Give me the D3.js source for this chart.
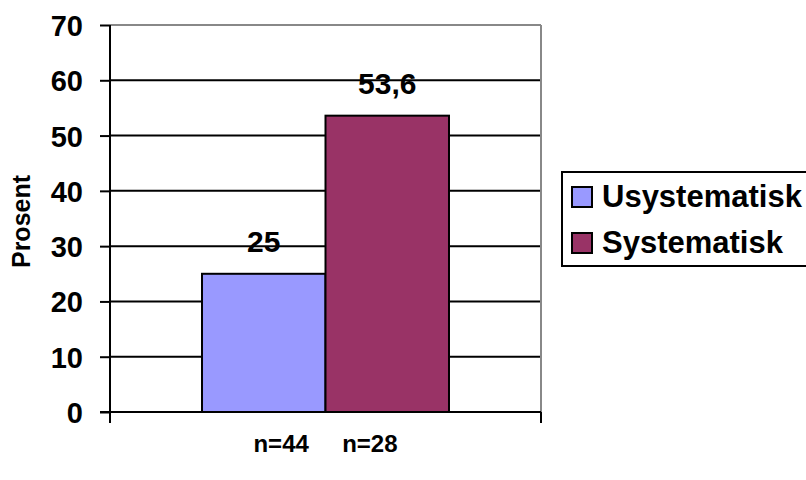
<!DOCTYPE html>
<html>
<head>
<meta charset="utf-8">
<script src="https://cdn.jsdelivr.net/npm/d3@7/dist/d3.min.js"></script>
<style>
  html, body { margin: 0; padding: 0; background: #fff; }
  svg text { font-family: "Liberation Sans", Arial, sans-serif; font-weight: bold; fill: #000; }
</style>
</head>
<body>
<svg id="chart" width="806" height="480"></svg>
<script>
// Share of cases per approach (percent)
const categories = ["n=44     n=28"];
const seriesNames = ["Usystematisk", "Systematisk"];
const seriesValues = [25, 53.6];
const valueLabels = ["25", "53,6"];
const seriesColors = ["#9999FF", "#993366"];
const yTicks = [0, 10, 20, 30, 40, 50, 60, 70];

const svg = d3.select("#chart");
const plot = { left: 110, right: 541, top: 25, bottom: 412 };

const y = d3.scaleLinear().domain([0, 70]).range([plot.bottom, plot.top]);
const x0 = d3.scaleBand().domain(categories).range([plot.left, plot.right])
  .paddingInner(0).paddingOuter(0.3725);
const x1 = d3.scaleBand().domain(seriesNames).range([0, x0.bandwidth()]);

// Horizontal gridlines
svg.append("g")
  .selectAll("line")
  .data(yTicks.filter(t => t > 0))
  .join("line")
  .attr("x1", plot.left).attr("x2", plot.right)
  .attr("y1", d => y(d)).attr("y2", d => y(d))
  .attr("stroke", d => d === 70 ? "#888" : "#000")
  .attr("stroke-width", 2);

// Right edge of the plot area
svg.append("line")
  .attr("x1", plot.right).attr("x2", plot.right)
  .attr("y1", plot.top).attr("y2", plot.bottom)
  .attr("stroke", "#888").attr("stroke-width", 2);

// Bars
const bars = svg.append("g");
categories.forEach(cat => {
  bars.selectAll(null)
    .data(seriesNames.map((s, i) => ({ s, v: seriesValues[i], c: seriesColors[i], l: valueLabels[i] })))
    .join("rect")
    .attr("x", d => x0(cat) + x1(d.s))
    .attr("width", x1.bandwidth())
    .attr("y", d => y(d.v))
    .attr("height", d => y(0) - y(d.v))
    .attr("fill", d => d.c)
    .attr("stroke", "#000")
    .attr("stroke-width", 2);

  bars.selectAll(null)
    .data(seriesNames.map((s, i) => ({ s, v: seriesValues[i], l: valueLabels[i] })))
    .join("text")
    .attr("x", d => x0(cat) + x1(d.s) + x1.bandwidth() / 2)
    .attr("y", d => y(d.v) - 22)
    .attr("text-anchor", "middle")
    .attr("font-size", 30)
    .text(d => d.l);
});

// Y axis
const yAxis = svg.append("g")
  .attr("transform", `translate(${plot.left},0)`)
  .call(d3.axisLeft(y).tickValues(yTicks).tickSize(10).tickPadding(17).tickFormat(d3.format("d")));
yAxis.select(".domain").remove();
yAxis.selectAll(".tick line").attr("stroke", "#000").attr("stroke-width", 2);
yAxis.selectAll(".tick text").attr("font-size", 29).attr("font-family", "Liberation Sans, Arial, sans-serif")
  .attr("font-weight", "bold").attr("dy", "0.36em");
svg.append("line")
  .attr("x1", plot.left).attr("x2", plot.left)
  .attr("y1", plot.top).attr("y2", plot.bottom + 11)
  .attr("stroke", "#000").attr("stroke-width", 2);

// X axis
svg.append("line")
  .attr("x1", plot.left - 10).attr("x2", plot.right)
  .attr("y1", plot.bottom).attr("y2", plot.bottom)
  .attr("stroke", "#000").attr("stroke-width", 2);
svg.append("line")
  .attr("x1", plot.right).attr("x2", plot.right)
  .attr("y1", plot.bottom).attr("y2", plot.bottom + 11)
  .attr("stroke", "#000").attr("stroke-width", 2);
svg.append("g")
  .selectAll("text")
  .data(categories)
  .join("text")
  .attr("x", d => x0(d) + x0.bandwidth() / 2)
  .attr("y", 452)
  .attr("text-anchor", "middle")
  .attr("font-size", 24)
  .attr("xml:space", "preserve")
  .style("white-space", "pre")
  .text(d => d);

// Y axis title
svg.append("text")
  .attr("transform", `translate(30,${(plot.top + plot.bottom) / 2 + 3}) rotate(-90)`)
  .attr("text-anchor", "middle")
  .attr("font-size", 25)
  .text("Prosent");

// Legend
const legend = svg.append("g");
legend.append("rect")
  .attr("x", 562).attr("y", 172).attr("width", 250).attr("height", 94)
  .attr("fill", "#fff").attr("stroke", "#000").attr("stroke-width", 2);
const items = legend.selectAll("g")
  .data(seriesNames.map((s, i) => ({ s, c: seriesColors[i] })))
  .join("g")
  .attr("transform", (d, i) => `translate(572,${187 + i * 46})`);
items.append("rect")
  .attr("width", 20).attr("height", 20)
  .attr("fill", d => d.c).attr("stroke", "#000").attr("stroke-width", 2);
items.append("text")
  .attr("x", 30).attr("y", 20)
  .attr("font-size", 31)
  .text(d => d.s);
</script>
</body>
</html>
